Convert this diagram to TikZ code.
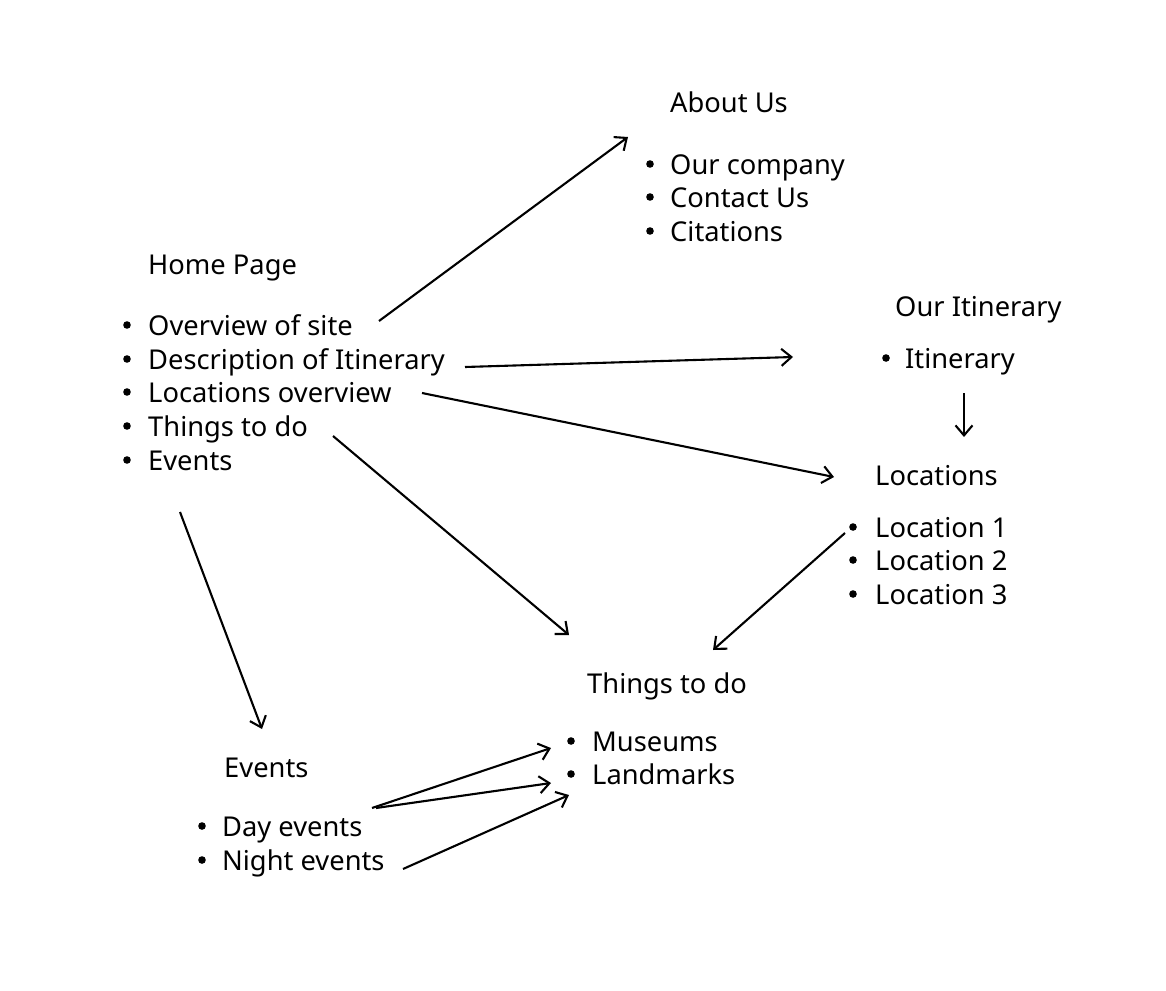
\documentclass[tikz,border=0pt]{standalone}
\usepackage{fontspec}
\setmainfont{Noto Sans}
\usetikzlibrary{arrows.meta}
\tikzset{
  txt/.style={anchor=base west, inner sep=0pt, font=\fontsize{27.3}{32}\selectfont},
  bul/.style={fill=black},
  conn/.style={line width=2.1pt, -{Straight Barb[length=10pt,width=17pt,line width=2.1pt]}},
}
\begin{document}
\begin{tikzpicture}[x=1pt,y=-1pt]
\useasboundingbox[fill=white] (0,0) rectangle (1166,990);
% About Us
\node[txt] (about) at (670,112) {About Us};
\node[txt] (a1) at (670,174) {Our company};
\node[txt] (a2) at (670,207) {Contact Us};
\node[txt] (a3) at (670,241) {Citations};
\foreach \y in {164,197,231} \fill[bul] (650,\y) circle (3.8);
% Home page
\node[txt] (home) at (148,274) {Home Page};
\node[txt] (h1) at (148,335) {Overview of site};
\node[txt] (h2) at (148,369) {Description of Itinerary};
\node[txt] (h3) at (148,402) {Locations overview};
\node[txt] (h4) at (148,436) {Things to do};
\node[txt] (h5) at (148,470) {Events};
\foreach \y in {325,359,392,426,460} \fill[bul] (127,\y) circle (3.8);
% Our Itinerary
\node[txt] (itin) at (895,316) {Our Itinerary};
\node[txt] (i1) at (905,368) {Itinerary};
\fill[bul] (886,358) circle (3.8);
% Locations
\node[txt] (loc) at (875,485) {Locations};
\node[txt] (l1) at (875,537) {Location 1};
\node[txt] (l2) at (875,570) {Location 2};
\node[txt] (l3) at (875,604) {Location 3};
\foreach \y in {527,560,594} \fill[bul] (853,\y) circle (3.8);
% Things to do
\node[txt] (things) at (587,693) {Things to do};
\node[txt] (t1) at (592,751) {Museums};
\node[txt] (t2) at (592,784) {Landmarks};
\foreach \y in {741,774} \fill[bul] (571,\y) circle (3.8);
% Events
\node[txt] (events) at (224,777) {Events};
\node[txt] (e1) at (222,836) {Day events};
\node[txt] (e2) at (222,870) {Night events};
\foreach \y in {826,860} \fill[bul] (202,\y) circle (3.8);
% connector endpoints
\coordinate (s1) at (379,321); \coordinate (d1) at (628,137);
\coordinate (s2) at (465,367); \coordinate (d2) at (793,357);
\coordinate (s3) at (422,393); \coordinate (d3) at (834,477);
\coordinate (s4) at (333,436); \coordinate (d4) at (569,635);
\coordinate (s5) at (180,512); \coordinate (d5) at (262,729);
\coordinate (s6) at (964,393); \coordinate (d6) at (964,437);
\coordinate (s7) at (845,533); \coordinate (d7) at (713,650);
\coordinate (s8) at (372,808); \coordinate (d8) at (551,748);
\coordinate (s9) at (376,808); \coordinate (d9) at (551,783);
\coordinate (s10) at (403,869); \coordinate (d10) at (569,795);
\foreach \i in {1,...,10} \draw[conn] (s\i) -- (d\i);
\end{tikzpicture}
\end{document}
